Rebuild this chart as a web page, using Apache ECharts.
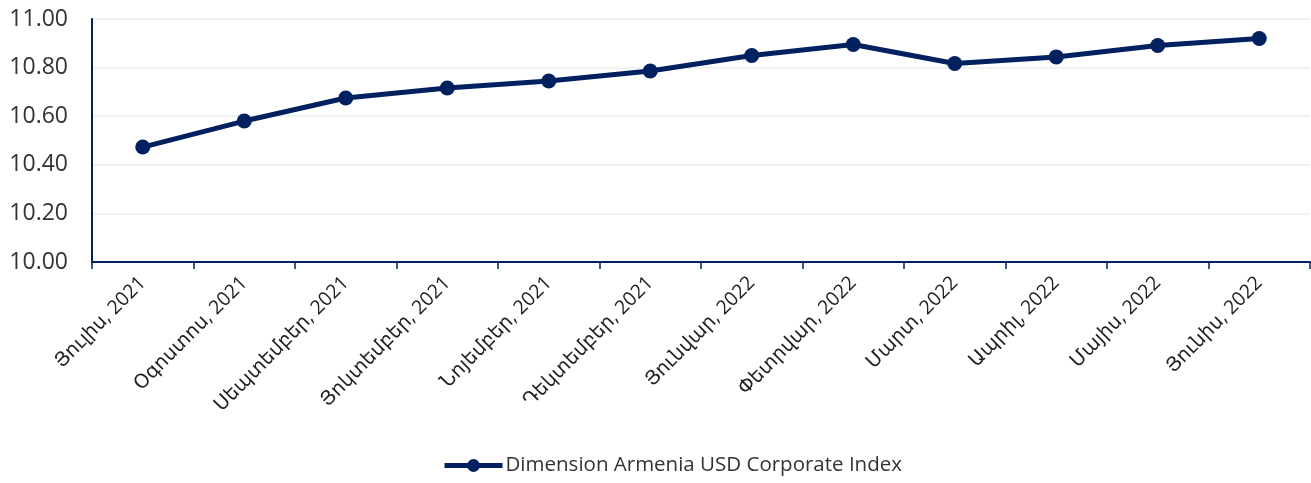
<!DOCTYPE html>
<html>
<head>
<meta charset="utf-8">
<script src="https://cdn.jsdelivr.net/npm/echarts@6/dist/echarts.min.js"></script>
<style>
  html, body { margin: 0; padding: 0; background: #fff; }
  #chart { width: 1311px; height: 483px; }
</style>
</head>
<body>
<div id="chart"></div>
<script>
/* ---------- 数据 ---------- */
const months = [
    "Յուլիս, 2021", "Օգոստոս, 2021", "Սեպտեմբեր, 2021", "Յոկտեմբեր, 2021",
    "Նոյեմբեր, 2021", "Դեկտեմբեր, 2021", "Յունվար, 2022", "Փետրվար, 2022",
    "Մարտ, 2022", "Ապրիլ, 2022", "Մայիս, 2022", "Յունիս, 2022"
];
const indexValues = [10.473, 10.580, 10.675, 10.716, 10.745, 10.786, 10.850, 10.895, 10.817, 10.844, 10.891, 10.920];
const seriesName = "Dimension Armenia USD Corporate Index";

/* ---------- 样式 ---------- */
const NAVY = "#002060";
const FONT = "'Open Sans', 'Noto Sans', 'DejaVu Sans', sans-serif";

const chart = echarts.init(document.getElementById("chart"));
chart.setOption({
    animation: false,
    textStyle: { fontFamily: FONT },
    grid: { left: 92, right: 1, top: 19, bottom: 221, containLabel: false },
    legend: {
        bottom: 2,
        left: 437,
        data: [seriesName],
        itemWidth: 58,
        itemHeight: 16,
        itemGap: 2,
        lineStyle: { width: 5 },
        textStyle: { fontSize: 20.5, color: "#333", fontFamily: FONT, padding: [0, 0, 0, -2] }
    },
    xAxis: {
        type: "category",
        data: months,
        boundaryGap: true,
        axisLine: { lineStyle: { color: NAVY, width: 2 } },
        axisTick: { show: true, length: 7, lineStyle: { color: NAVY, width: 1.5 } },
        axisLabel: { rotate: 45, fontSize: 19.5, color: "#222", margin: 18, interval: 0 }
    },
    yAxis: {
        type: "value",
        min: 10,
        max: 11,
        interval: 0.2,
        axisLine: { show: true, lineStyle: { color: NAVY, width: 2 } },
        axisTick: { show: false },
        splitLine: { lineStyle: { color: "#eeeeee", width: 1.5 } },
        axisLabel: {
            fontSize: 23, color: "#333", margin: 24,
            formatter: (v) => v.toFixed(2)
        }
    },
    series: [{
        name: seriesName,
        type: "line",
        data: indexValues,
        symbol: "circle",
        symbolSize: 15,
        lineStyle: { color: NAVY, width: 5 },
        itemStyle: { color: NAVY }
    }]
});
</script>
</body>
</html>
